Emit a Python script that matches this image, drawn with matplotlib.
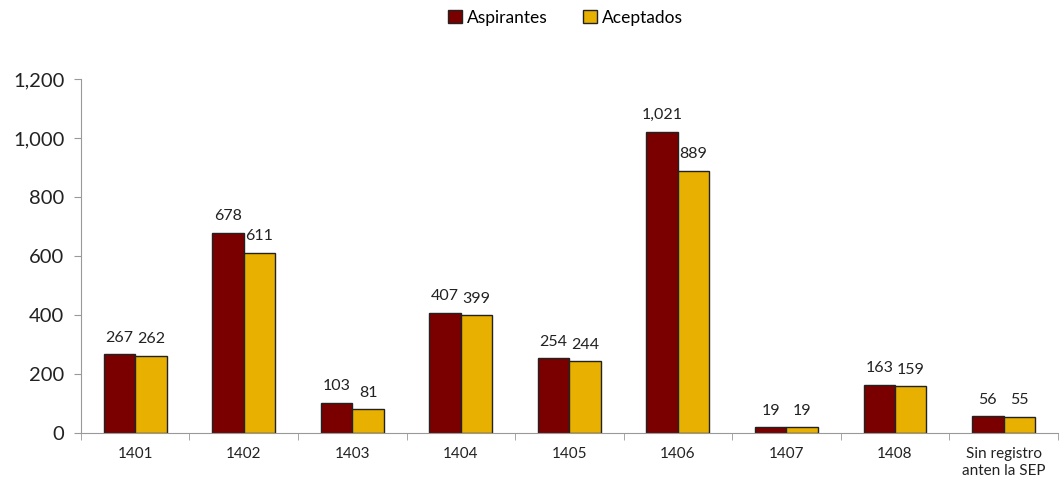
import matplotlib
matplotlib.use("Agg")
import matplotlib.pyplot as plt
import numpy as np

categories = ["1401", "1402", "1403", "1404", "1405", "1406", "1407", "1408", "Sin registro\nanten la SEP"]
aspirantes = [267, 678, 103, 407, 254, 1021, 19, 163, 56]
aceptados = [262, 611, 81, 399, 244, 889, 19, 159, 55]

plt.rcParams['font.family'] = ['Lato', 'DejaVu Sans']

fig = plt.figure(figsize=(10.61, 4.87), dpi=100)
ax = fig.add_axes([0.0763, 0.111, 0.9207, 0.727])

x = np.arange(len(categories))
w = 0.29
c1 = "#7A0000"
c2 = "#E8B000"
b1 = ax.bar(x - w/2, aspirantes, w, color=c1, edgecolor="#222222", linewidth=1.0, label="Aspirantes")
b2 = ax.bar(x + w/2, aceptados, w, color=c2, edgecolor="#222222", linewidth=1.0, label="Aceptados")

for bars in (b1, b2):
    for r in bars:
        v = r.get_height()
        ax.text(r.get_x() + r.get_width()/2, v + 32, f"{int(v):,}", ha="center", va="bottom",
                fontsize=11.5, color="#222222")

ax.set_xlim(-0.5, len(categories) - 0.5)
ax.set_ylim(0, 1200)
ax.set_yticks(range(0, 1201, 200))
ax.set_yticklabels([f"{v:,}" for v in range(0, 1201, 200)], fontsize=14.5, color="#222222")
ax.set_xticks(x)
ax.set_xticklabels(categories, fontsize=11, color="#222222", linespacing=1.3)
ax.set_xticks(np.arange(-0.5, len(categories), 1.0), minor=True)
ax.tick_params(axis="x", which="major", length=0, pad=10)
ax.tick_params(axis="x", which="minor", length=5, color="#999999", direction="out")
ax.tick_params(axis="y", length=5, color="#999999", direction="out", pad=7)

for s in ["top", "right"]:
    ax.spines[s].set_visible(False)
ax.spines["left"].set_color("#999999")
ax.spines["bottom"].set_color("#999999")

fig.legend(handles=[b1, b2], loc="upper center", bbox_to_anchor=(0.533, 1.012), ncol=2, frameon=False,
           fontsize=12.5, handlelength=0.8, handleheight=0.8, handletextpad=0.3, columnspacing=2.0)

fig.savefig("out.png", dpi=100)
